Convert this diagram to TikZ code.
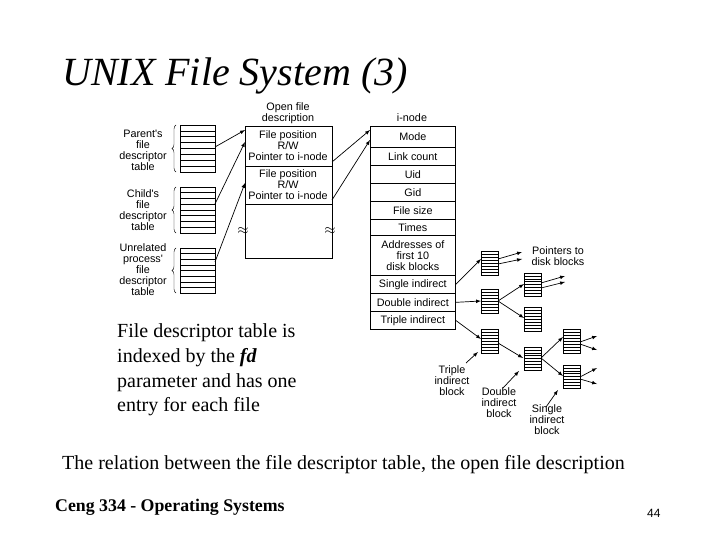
\documentclass[tikz,border=0pt]{standalone}
\usepackage{fontspec}
\setmainfont{Liberation Serif}
\newfontfamily\dsans{Liberation Sans}
\usetikzlibrary{decorations.pathreplacing}
\begin{document}
\begin{tikzpicture}[x=1pt,y=-1pt,
  lab/.style={font=\dsans\fontsize{10.8}{11}\selectfont,align=center,inner sep=0pt},
  arr/.style={->,>=latex,line width=0.7pt},
  cell/.style={draw,line width=0.7pt,minimum width=85pt,inner sep=0pt,lab},
  body/.style={font=\fontsize{20}{24}\selectfont,inner sep=0pt,anchor=base west}]
\useasboundingbox (0,0) rectangle (720,540);
\newcommand{\tbl}[5]{% name x y w h
  \draw[line width=0.7pt] (#2,#3) rectangle ++(#4,#5);
  \foreach \k in {1,...,7}{\draw[line width=0.5pt] (#2,#3+\k*#5/8) -- ++(#4,0);}
  \coordinate (#1) at (#2+#4/2,#3+#5/2);}
\node[font=\itshape\fontsize{40}{46}\selectfont,anchor=base west,inner sep=0pt] (title) at (62,86) {UNIX File System (3)};
% fd tables
\tbl{pt}{180}{125}{35}{47}
\tbl{ct}{180}{187}{35}{46}
\tbl{ut}{180}{248}{35}{45}
\draw[decorate,decoration={brace,amplitude=4pt}] (176,172) -- (176,125);
\draw[decorate,decoration={brace,amplitude=4pt}] (176,233) -- (176,187);
\draw[decorate,decoration={brace,amplitude=4pt}] (176,293) -- (176,248);
\node[lab] (pl) at (143,150) {Parent's\\file\\descriptor\\table};
\node[lab] (cl) at (143,210) {Child's\\file\\descriptor\\table};
\node[lab] (ul) at (143,270) {Unrelated\\process'\\file\\descriptor\\table};
% open file description
\node[lab] (ofl) at (288,113) {Open file\\description};
\draw[line width=0.7pt] (245,126) rectangle (332,258);
\draw[line width=0.7pt] (245,166) -- (332,166) (245,204) -- (332,204);
\node[lab] (e1) at (288,146) {File position\\R/W\\Pointer to i-node};
\node[lab] (e2) at (288,185) {File position\\R/W\\Pointer to i-node};
\node[font=\Large] (w1) at (243,231) {$\approx$};
\node[font=\Large] (w2) at (330,231) {$\approx$};
\coordinate (o1) at (245,130); \coordinate (o2) at (245,142); \coordinate (o3) at (245,183);
\draw[arr] (215,147) -- (o1);
\draw[arr] (215,204) -- (o2);
\draw[arr] (215,262) -- (o3);
% inode
\node[lab] (inl) at (412,118) {i-node};
\begin{scope}[every node/.style={cell,anchor=north west}]
\node[minimum height=21pt] (mode) at (370,126) {Mode};
\node[minimum height=18pt] (lc) at (370,147) {Link count};
\node[minimum height=18pt] (uid) at (370,165) {Uid};
\node[minimum height=18pt] (gid) at (370,183) {Gid};
\node[minimum height=18pt] (fs) at (370,201) {File size};
\node[minimum height=16pt] (tm) at (370,219) {Times};
\node[minimum height=40pt] (ad) at (370,235) {Addresses of\\first 10\\disk blocks};
\node[minimum height=18pt] (si) at (370,275) {Single indirect};
\node[minimum height=18pt] (di) at (370,293) {Double indirect};
\node[minimum height=18pt] (ti) at (370,311) {Triple indirect};
\end{scope}
\draw[arr] (332,162) -- (370,130);
\draw[arr] (332,200) -- (370,140);
% blocks
\tbl{A}{481}{251}{17}{24}
\tbl{B}{481}{289}{17}{24}
\tbl{C}{481}{329}{17}{24}
\tbl{D}{524}{273}{17}{23}
\tbl{E}{524}{307}{17}{24}
\tbl{F}{524}{347}{17}{23}
\tbl{G}{563}{329}{17}{24}
\tbl{H}{563}{365}{17}{23}
\draw[arr] (si.east) -- (481,259);
\draw[arr] (di.east) -- (481,301);
\draw[arr] (ti.east) -- (481,339);
\draw[arr] (498,259) -- (522,252); \draw[arr] (498,264) -- (522,259);
\draw[arr] (498,301) -- (524,284); \draw[arr] (498,301) -- (524,318);
\draw[arr] (541,283) -- (565,276); \draw[arr] (541,288) -- (565,282);
\draw[arr] (498,343) -- (523,358);
\draw[arr] (541,358) -- (563,337); \draw[arr] (541,358) -- (563,376);
\draw[arr] (580,342) -- (597,336); \draw[arr] (580,344) -- (597,350);
\draw[arr] (580,377) -- (597,368); \draw[arr] (580,379) -- (597,384);
\node[lab] (pdl) at (558,256) {Pointers to\\disk blocks};
\node[lab] (tib) at (452,381) {Triple\\indirect\\block};
\node[lab] (dib) at (499,403) {Double\\indirect\\block};
\node[lab] (sib) at (547,420) {Single\\indirect\\block};
\draw[arr] (466,363) -- (478,352);
\draw[arr] (503,388) -- (519,371);
\draw[arr] (546,407) -- (558,390);
% texts
\node[body] (t1) at (117,337) {File descriptor table is};
\node[body] (t2) at (117,362) {indexed by the \textbf{\textit{fd}}};
\node[body] (t3) at (117,387) {parameter and has one};
\node[body] (t4) at (117,411) {entry for each file};
\node[body] (cap) at (62,469) {The relation between the file descriptor table, the open file description};
\node[font=\bfseries\fontsize{17.8}{20}\selectfont,anchor=base west,inner sep=0pt] (ft) at (55,511) {Ceng 334 - Operating Systems};
\node[font=\dsans\fontsize{12}{14}\selectfont,anchor=base west,inner sep=0pt] (pg) at (647,517) {44};
\end{tikzpicture}
\end{document}
